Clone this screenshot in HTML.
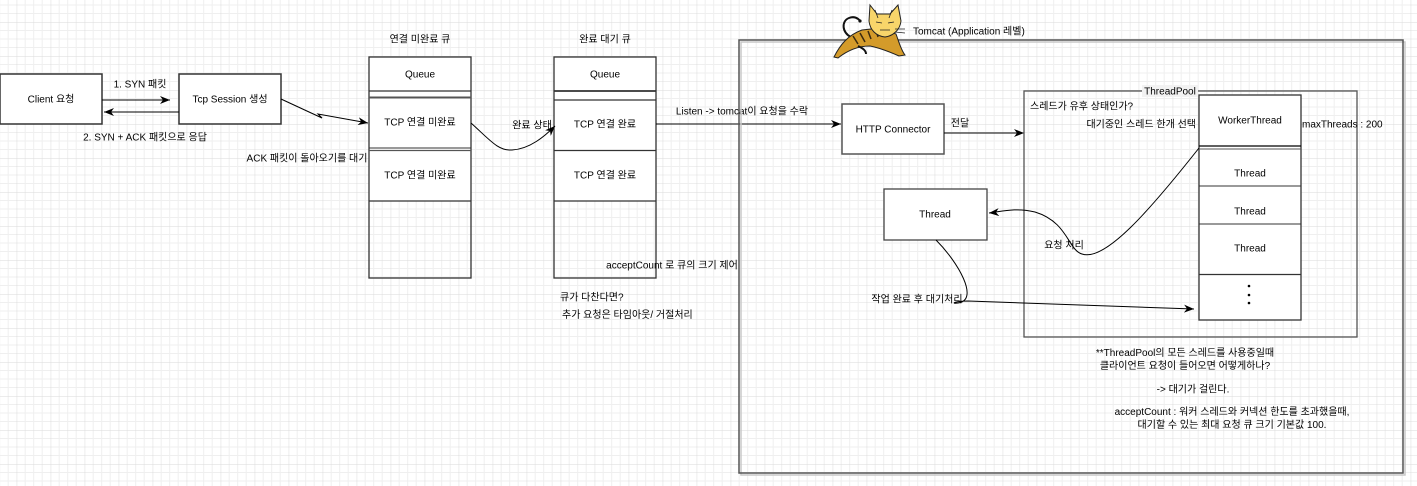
<!DOCTYPE html>
<html><head><meta charset="utf-8"><style>
html,body{margin:0;padding:0;background:#fff;}
svg{display:block;}
text{font-family:"Liberation Sans","Noto Sans CJK KR",sans-serif;font-size:10px;fill:#000;}
</style></head><body>
<svg width="1417" height="486" viewBox="0 0 1417 486" xmlns="http://www.w3.org/2000/svg">
<defs>
<pattern id="g" x="16.7" y="22" width="34" height="34" patternUnits="userSpaceOnUse">
<path d="M8.5,0V34M17,0V34M25.5,0V34M0,8.5H34M0,17H34M0,25.5H34" stroke="#efefef" stroke-width="1" fill="none"/>
<path d="M0,0V34M0,0H34" stroke="#dadada" stroke-width="1" fill="none"/>
</pattern>
<marker id="a" markerUnits="userSpaceOnUse" markerWidth="10" markerHeight="8" refX="10" refY="4" orient="auto">
<path d="M0,0 L10,4 L0,8 L3,4 Z" fill="#000"/>
</marker>
</defs>
<rect width="1417" height="486" fill="url(#g)"/>

<!-- Client / Tcp session -->
<rect x="0" y="74" width="102" height="50" fill="#fff" stroke="#333" stroke-width="1.5"/>
<text x="51" y="102.5" text-anchor="middle">Client 요청</text>
<rect x="179" y="74" width="102" height="50" fill="#fff" stroke="#333" stroke-width="1.5"/>
<text x="230" y="102.5" text-anchor="middle">Tcp Session 생성</text>
<line x1="102" y1="100" x2="170" y2="100" stroke="#000" marker-end="url(#a)"/>
<text x="140" y="87.5" text-anchor="middle">1. SYN 패킷</text>
<line x1="179" y1="112" x2="104" y2="112" stroke="#000" marker-end="url(#a)"/>
<text x="145" y="140.5" text-anchor="middle">2. SYN + ACK 패킷으로 응답</text>
<path d="M281,99 L322,118 L318,114 L368,123" stroke="#000" fill="none" marker-end="url(#a)"/>
<text x="307" y="161.5" text-anchor="middle">ACK 패킷이 돌아오기를 대기</text>

<!-- Queue 1 -->
<text x="420" y="42.5" text-anchor="middle">연결 미완료 큐</text>
<rect x="369" y="57" width="102" height="144" fill="#fff"/>
<rect x="369" y="57" width="102" height="221" fill="none" stroke="#333" stroke-width="1.3"/>
<line x1="369" y1="91" x2="471" y2="91" stroke="#333" stroke-width="1.3"/>
<line x1="369" y1="97.5" x2="471" y2="97.5" stroke="#555" stroke-width="2"/>
<line x1="369" y1="148" x2="471" y2="148" stroke="#333" stroke-width="1"/>
<line x1="369" y1="150.5" x2="471" y2="150.5" stroke="#555" stroke-width="1.3"/>
<line x1="369" y1="201" x2="471" y2="201" stroke="#333" stroke-width="1.3"/>
<text x="420" y="77.5" text-anchor="middle">Queue</text>
<text x="420" y="125.5" text-anchor="middle">TCP 연결 미완료</text>
<text x="420" y="178.5" text-anchor="middle">TCP 연결 미완료</text>

<!-- Queue 2 -->
<text x="605" y="42.5" text-anchor="middle">완료 대기 큐</text>
<rect x="554" y="57" width="102" height="144" fill="#fff"/>
<rect x="554" y="57" width="102" height="221" fill="none" stroke="#333" stroke-width="1.3"/>
<line x1="554" y1="91" x2="656" y2="91" stroke="#333" stroke-width="1.8"/>
<line x1="554" y1="100" x2="656" y2="100" stroke="#333" stroke-width="1.3"/>
<line x1="554" y1="150.5" x2="656" y2="150.5" stroke="#333" stroke-width="1.3"/>
<line x1="554" y1="201" x2="656" y2="201" stroke="#333" stroke-width="1.3"/>
<text x="605" y="77.5" text-anchor="middle">Queue</text>
<text x="605" y="127.5" text-anchor="middle">TCP 연결 완료</text>
<text x="605" y="178.5" text-anchor="middle">TCP 연결 완료</text>

<path d="M471,123 C490,140 498,151 512,150 C530,149 545,136 555,126" stroke="#000" fill="none" marker-end="url(#a)"/>
<text x="532" y="128.5" text-anchor="middle">완료 상태</text>

<line x1="656" y1="124" x2="841" y2="124" stroke="#000" marker-end="url(#a)"/>
<text x="742" y="114.5" text-anchor="middle">Listen -&gt; tomcat이 요청을 수락</text>
<text x="672" y="268.5" text-anchor="middle">acceptCount 로 큐의 크기 제어</text>
<text x="560" y="300.5">큐가 다찬다면?</text>
<text x="562" y="318">추가 요청은 타임아웃/ 거절처리</text>

<!-- Tomcat box -->
<rect x="741" y="42" width="664" height="433" fill="none" stroke="#c8c8c8" stroke-width="1.5"/>
<rect x="739" y="40" width="664" height="433" fill="none" stroke="#555" stroke-width="1.5"/>
<text x="913" y="34.5">Tomcat (Application 레벨)</text>

<!-- cat -->
<path d="M851,37 C842,33 841,21 849,18 C854,16 858,18 860,21" stroke="#111" fill="none" stroke-width="2"/>
<circle cx="860" cy="21" r="1.6" fill="#111"/>
<path d="M834,57 C840,45 848,35 862,30 L880,28 L896,34 C899,42 901,50 905,55 L899,56 C890,52 880,48 870,46 C858,46 848,50 838,58 Z" fill="#d49b2a" stroke="#222" stroke-width="1"/>
<path d="M853,36 L858,44 M860,33 L865,42 M868,31 L871,39 M876,30 L878,37" stroke="#3a2a10" stroke-width="1.5"/>
<path d="M858,46 C862,48 866,50 866,54" stroke="#111" fill="none" stroke-width="2"/>
<path d="M870,5 L877,14 L890,14 L898,5 L901,21 C900,30 893,36 885,37 C876,36 870,30 869,21 Z" fill="#f8d56a" stroke="#222" stroke-width="1"/>
<path d="M876,22 L882,23 M888,23 L894,22 M880,30 L890,30 M895,29 L905,29 M895,32 L905,33 M875,10 L878,18 M892,10 L889,18" stroke="#222" stroke-width="0.8" fill="none"/>

<!-- HTTP connector -->
<rect x="842" y="104" width="102" height="50" fill="#fff" stroke="#555" stroke-width="1.5"/>
<text x="893" y="132.5" text-anchor="middle">HTTP Connector</text>
<line x1="944" y1="133" x2="1024" y2="133" stroke="#000" marker-end="url(#a)"/>
<text x="960" y="126.5" text-anchor="middle">전달</text>

<!-- Thread box -->
<rect x="884" y="189" width="103" height="51" fill="#fff" stroke="#444" stroke-width="1.3"/>
<text x="935" y="217.5" text-anchor="middle">Thread</text>

<!-- ThreadPool -->
<rect x="1024" y="91" width="333" height="246" fill="none" stroke="#555" stroke-width="1.3"/>
<rect x="1142" y="85" width="56" height="12" fill="#f2f2f2"/>
<text x="1170" y="94.5" text-anchor="middle">ThreadPool</text>
<text x="1030" y="109.5">스레드가 유후 상태인가?</text>
<text x="1196" y="127.5" text-anchor="end">대기중인 스레드 한개 선택</text>

<rect x="1199" y="95" width="102" height="225" fill="#fff" stroke="#333" stroke-width="1.3"/>
<line x1="1199" y1="146" x2="1301" y2="146" stroke="#000" stroke-width="1.3"/>
<line x1="1199" y1="149" x2="1301" y2="149" stroke="#555" stroke-width="1"/>
<line x1="1199" y1="186" x2="1301" y2="186" stroke="#333" stroke-width="1"/>
<line x1="1199" y1="224" x2="1301" y2="224" stroke="#333" stroke-width="1"/>
<line x1="1199" y1="274.5" x2="1301" y2="274.5" stroke="#333" stroke-width="1.3"/>
<text x="1250" y="123.5" text-anchor="middle">WorkerThread</text>
<text x="1250" y="176.5" text-anchor="middle">Thread</text>
<text x="1250" y="214.5" text-anchor="middle">Thread</text>
<text x="1250" y="251.5" text-anchor="middle">Thread</text>
<circle cx="1249" cy="286" r="1.3" fill="#000"/>
<circle cx="1249" cy="295" r="1.3" fill="#000"/>
<circle cx="1249" cy="303" r="1.3" fill="#000"/>
<text x="1302" y="127.5">maxThreads : 200</text>

<!-- curves -->
<path d="M1199,148 C1150,210 1105,262 1082,254 C1068,250 1068,222 1035,212 C1015,207 1000,212 989,213" stroke="#000" fill="none" marker-end="url(#a)"/>
<text x="1064" y="248.5" text-anchor="middle">요청 처리</text>
<path d="M936,240 C958,262 980,300 958,303 C950,304 955,301 968,301 L1194,309" stroke="#000" fill="none" marker-end="url(#a)"/>
<text x="917" y="302.5" text-anchor="middle">작업 완료 후 대기처리</text>

<!-- bottom notes -->
<text x="1185" y="356" text-anchor="middle">**ThreadPool의 모든 스레드를 사용중일때</text>
<text x="1185" y="369" text-anchor="middle">클라이언트 요청이 들어오면 어떻게하나?</text>
<text x="1193" y="392.5" text-anchor="middle">-&gt; 대기가 걸린다.</text>
<text x="1232" y="415" text-anchor="middle">acceptCount : 워커 스레드와 커넥션 한도를 초과했을때,</text>
<text x="1232" y="428" text-anchor="middle">대기할 수 있는 최대 요청 큐 크기 기본값 100.</text>
</svg>
</body></html>
